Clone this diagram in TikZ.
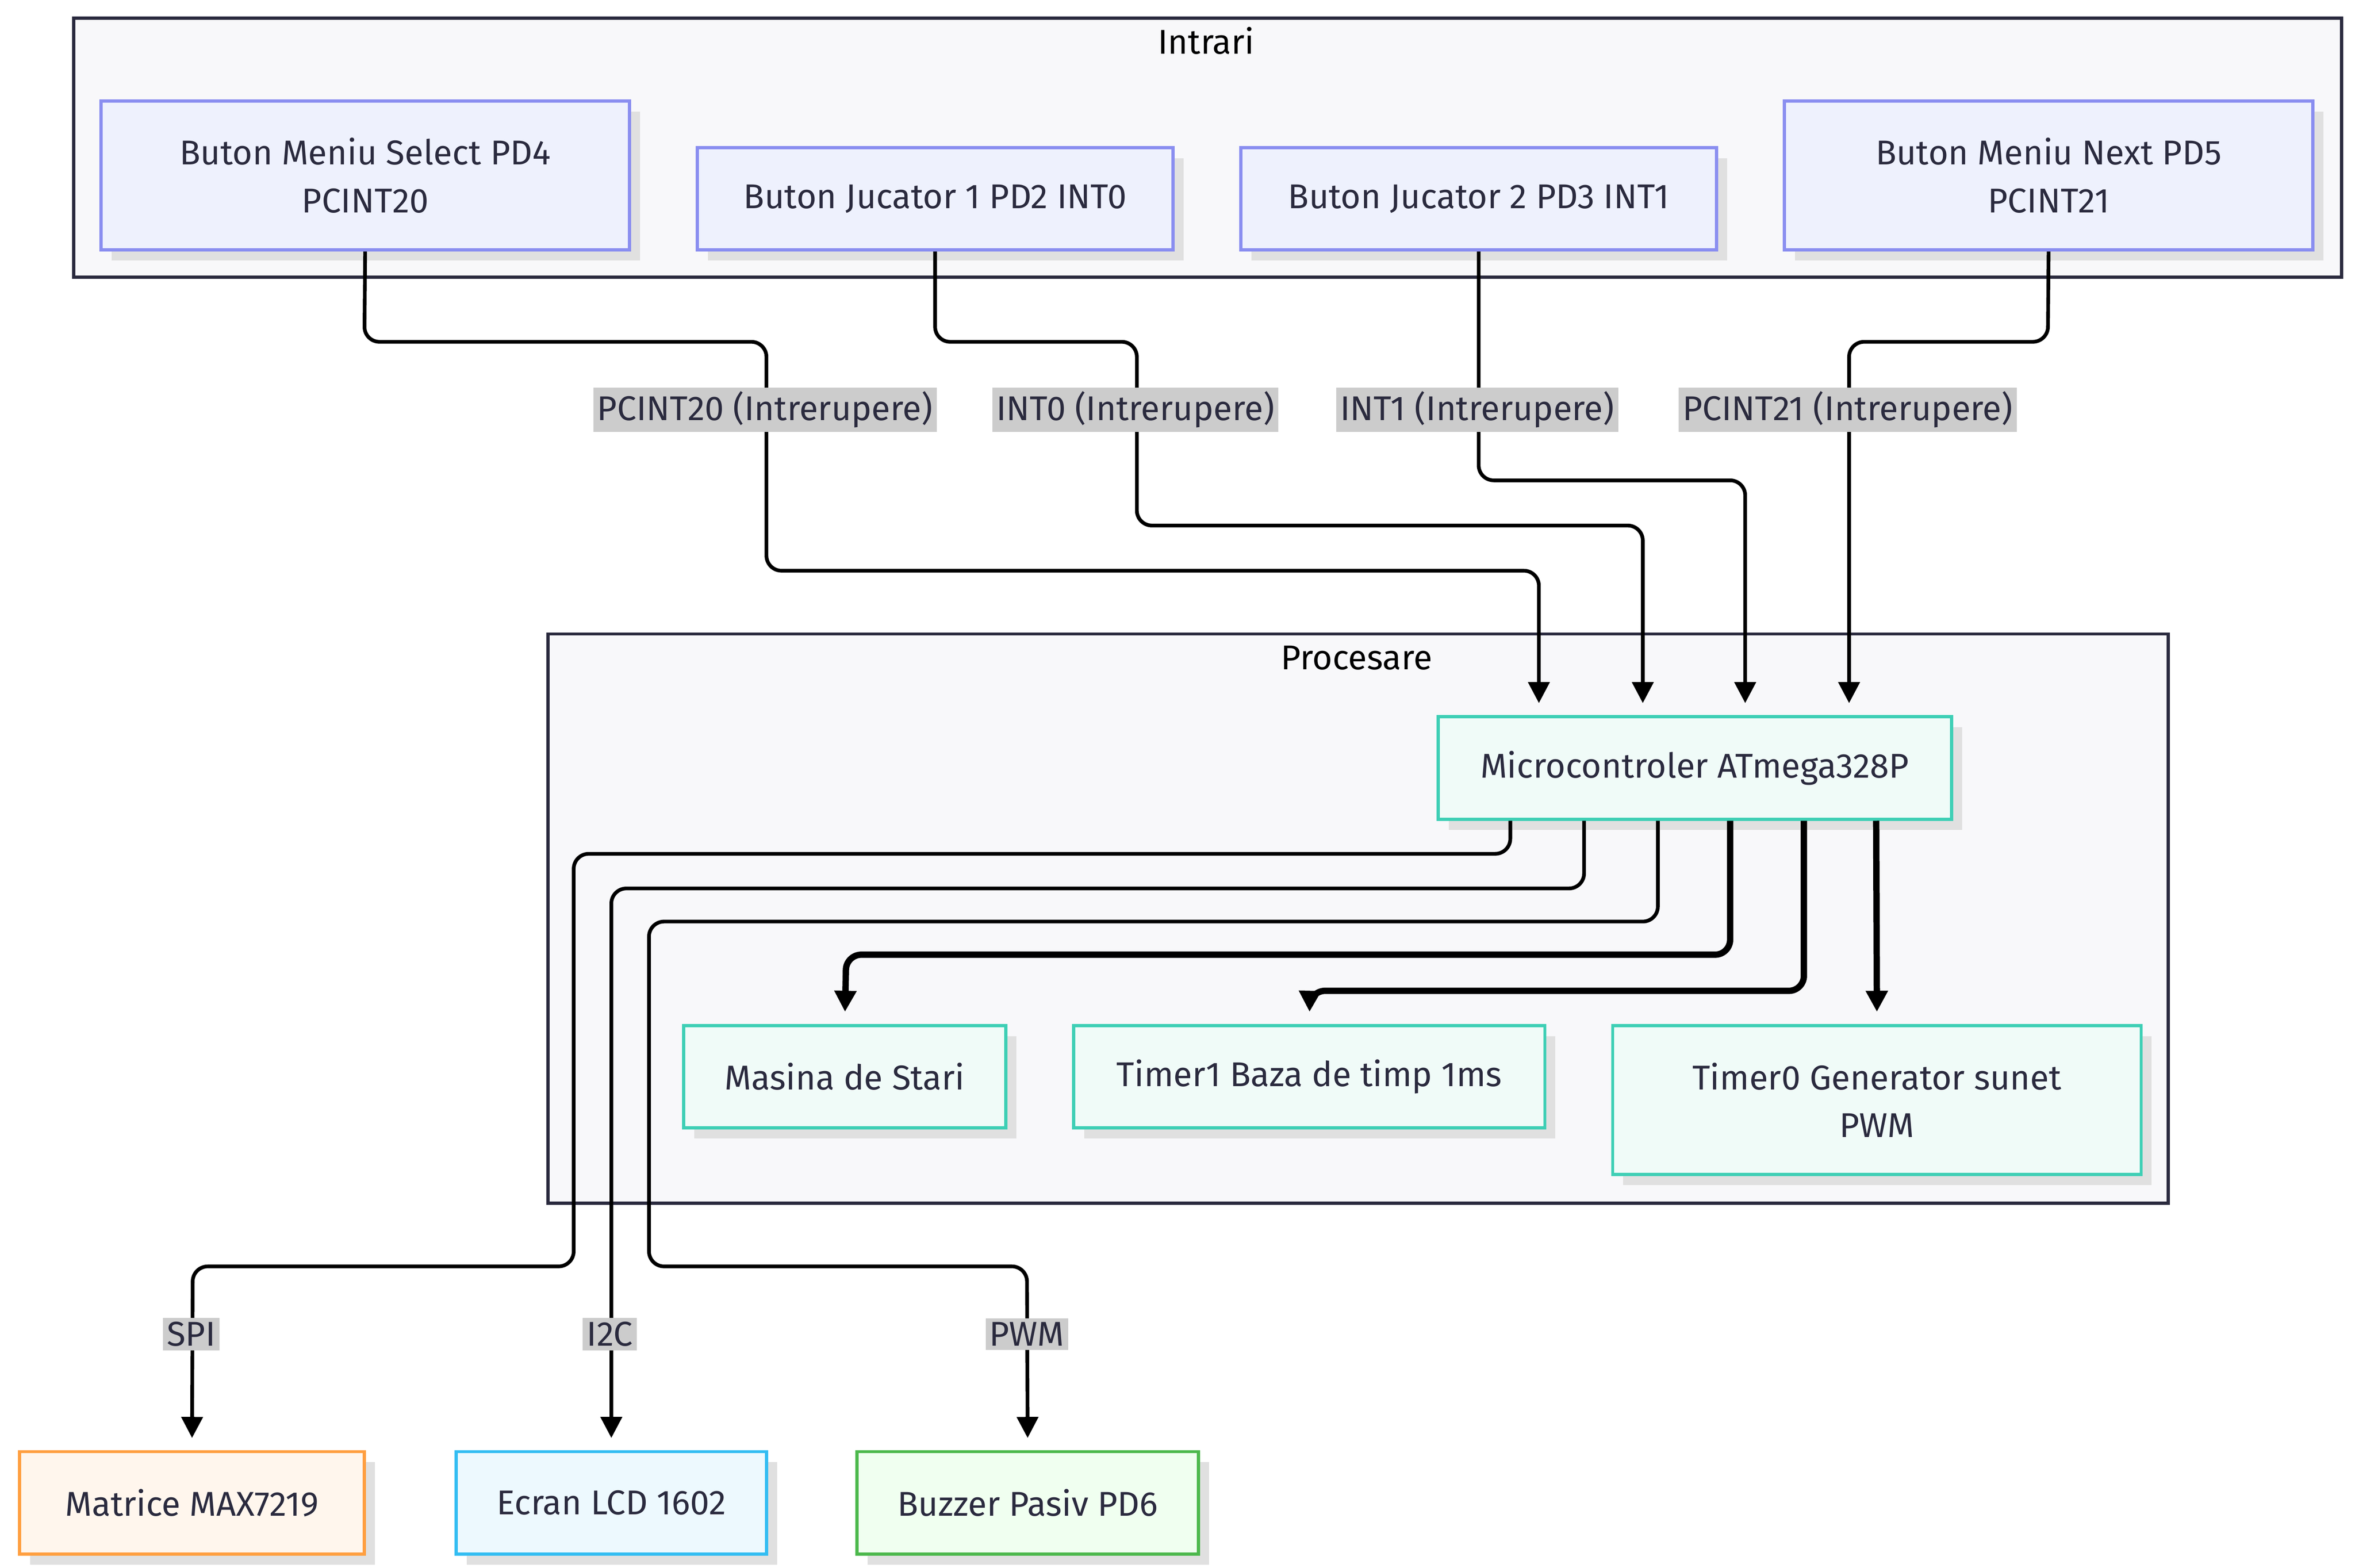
\documentclass[tikz,border=0pt]{standalone}
\usepackage{fontspec}
\setmainfont{Fira Sans}
\usetikzlibrary{arrows.meta,calc,shadows}

\definecolor{inFill}{HTML}{EEF1FD}
\definecolor{inLine}{HTML}{8A8EF0}
\definecolor{prFill}{HTML}{F0FBF8}
\definecolor{prLine}{HTML}{3ECFB5}
\definecolor{clFill}{HTML}{F8F8FA}
\definecolor{clLine}{HTML}{2A2A3E}
\definecolor{lbFill}{HTML}{CCCCCC}

\tikzset{
  box/.style={draw, line width=1.2pt, align=center, inner sep=0pt,
    font=\fontsize{13}{18}\selectfont, text=clLine,
    drop shadow={shadow xshift=0.14cm, shadow yshift=-0.14cm, fill=black!12, opacity=1}},
  inbox/.style={box, fill=inFill, draw=inLine},
  prbox/.style={box, fill=prFill, draw=prLine},
  cluster/.style={draw=clLine, fill=clFill, line width=1.2pt},
  flow/.style={line width=1.4pt, rounded corners=0.2cm, -{Triangle[length=0.28cm,width=0.28cm]}, shorten >=0.16cm},
  bold flow/.style={flow, line width=2.4pt},
  lbl/.style={fill=lbFill, inner sep=1.5pt, font=\fontsize{13}{16}\selectfont, text=clLine},
  title/.style={font=\fontsize{13}{16}\selectfont, text=black}
}

\begin{document}
\begin{tikzpicture}[x=0.02cm, y=-0.02cm]
  \useasboundingbox (0,0) rectangle (1564,1041);

  % grupuri
  \draw[cluster] (49,12) rectangle (1555,184);
  \node[title] (tIn) at (801,27) {Intrari};
  \draw[cluster] (364,421) rectangle (1440,799);
  \node[title] (tPr) at (901,437) {Procesare};

  % intrari
  \node[inbox, minimum width=7.02cm, minimum height=1.98cm] (sel) at (242.5,116.5) {Buton Meniu Select PD4\\PCINT20};
  \node[inbox, minimum width=6.32cm, minimum height=1.36cm] (j1) at (621,132) {Buton Jucator 1 PD2 INT0};
  \node[inbox, minimum width=6.32cm, minimum height=1.36cm] (j2) at (982,132) {Buton Jucator 2 PD3 INT1};
  \node[inbox, minimum width=7.02cm, minimum height=1.98cm] (nxt) at (1360.5,116.5) {Buton Meniu Next PD5\\PCINT21};

  % procesare
  \node[prbox, minimum width=6.82cm, minimum height=1.36cm] (mcu) at (1125.5,510) {Microcontroler ATmega328P};
  \node[prbox, minimum width=4.28cm, minimum height=1.36cm] (fsm) at (561,715) {Masina de Stari};
  \node[prbox, minimum width=6.26cm, minimum height=1.36cm] (tm1) at (869.5,715) {Timer1 Baza de timp 1ms};
  \node[prbox, minimum width=7.02cm, minimum height=1.98cm] (tm0) at (1246.5,730.5) {Timer0 Generator sunet\\PWM};

  % iesiri
  \node[box, fill=orange!7, draw=orange!75, minimum width=4.58cm, minimum height=1.36cm] (mtx) at (127.5,998) {Matrice MAX7219};
  \node[box, fill=cyan!7, draw=cyan!80, minimum width=4.12cm, minimum height=1.36cm] (lcd) at (406,998) {Ecran LCD 1602};
  \node[box, fill=green!6, draw=green!60!black!70, minimum width=4.54cm, minimum height=1.36cm] (buz) at (682.5,998) {Buzzer Pasiv PD6};

  % intreruperi
  \draw[flow] (sel.south) -- (242,227) -- (509,227) -- (509,379) -- (1022,379) -- ($(mcu.north)+(-103.5,0)$);
  \draw[flow] (j1.south) -- (621,227) -- (755,227) -- (755,349) -- (1091,349) -- ($(mcu.north)+(-34.5,0)$);
  \draw[flow] (j2.south) -- (982,319) -- (1159,319) -- ($(mcu.north)+(33.5,0)$);
  \draw[flow] (nxt.south) -- (1360,227) -- (1228,227) -- ($(mcu.north)+(102.5,0)$);
  \node[lbl] (l20) at (508,272) {PCINT20 (Intrerupere)};
  \node[lbl] (l0) at (754,272) {INT0 (Intrerupere)};
  \node[lbl] (l1) at (981,272) {INT1 (Intrerupere)};
  \node[lbl] (l21) at (1227,272) {PCINT21 (Intrerupere)};

  % magistrale
  \draw[flow] ($(mcu.south)+(-122.5,0)$) -- (1003,567) -- (381,567) -- (381,841) -- (128,841) -- (mtx.north);
  \draw[flow] ($(mcu.south)+(-73.5,0)$) -- (1052,590) -- (406,590) -- (lcd.north);
  \draw[flow] ($(mcu.south)+(-24.5,0)$) -- (1101,612) -- (431,612) -- (431,841) -- (682,841) -- (buz.north);
  \draw[bold flow] ($(mcu.south)+(23.5,0)$) -- (1149,634) -- (562,634) -- (fsm.north);
  \draw[bold flow] ($(mcu.south)+(72.5,0)$) -- (1198,658) -- (870,658) -- (tm1.north);
  \draw[bold flow] ($(mcu.south)+(120.5,0)$) -- (tm0.north);
  \node[lbl] (lspi) at (127,886) {SPI};
  \node[lbl] (li2c) at (405,886) {I2C};
  \node[lbl] (lpwm) at (682,886) {PWM};
\end{tikzpicture}
\end{document}
